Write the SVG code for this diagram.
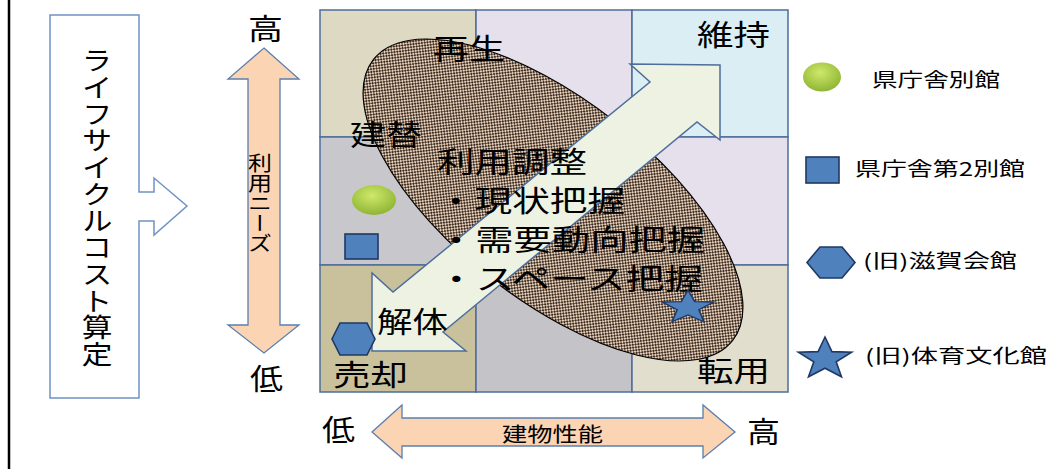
<svg xmlns="http://www.w3.org/2000/svg" width="1048" height="469" viewBox="0 0 1048 469">
<style>
.cell{stroke:#4d6d9b;stroke-width:1.5}
.lbl{font-family:"Noto Sans CJK JP","Noto Sans CJK SC",sans-serif;font-size:29px;fill:#000}
.sm{font-family:"Noto Sans CJK JP","Noto Sans CJK SC",sans-serif;font-size:19px;fill:#000}
.peach{fill:#fbd4b4;stroke:#5a7fae;stroke-width:1.3}
.mk{fill:#4f81bd;stroke:#1f3864;stroke-width:1.6}
</style>
<defs>
<pattern id="dots" width="4" height="4" patternUnits="userSpaceOnUse">
<rect width="4" height="4" fill="#e8ceb6"/>
<rect x="0" y="0" width="2" height="2" fill="#3d3027"/>
<rect x="2" y="2" width="2" height="2" fill="#3d3027"/>
</pattern>
<radialGradient id="grn" cx="0.45" cy="0.35" r="0.65">
<stop offset="0" stop-color="#cfe86a"/>
<stop offset="1" stop-color="#8fb534"/>
</radialGradient>
<path id="star" d="M0,-22 L6.9,-7.4 L26.6,-6.8 L11.2,2.8 L16.5,17.8 L0,9.2 L-16.5,17.8 L-11.2,2.8 L-26.6,-6.8 L-6.9,-7.4 Z"/>
</defs>
<rect width="1048" height="469" fill="#fff"/>
<line x1="9" y1="0" x2="9" y2="469" stroke="#000" stroke-width="2.5"/>

<g id="lifecycle">
<path d="M50,15 H139 V192 H154 V178 L187,206 L154,235 V221 H139 V398 H50 Z" fill="#fff" stroke="#6f93c4" stroke-width="1.5"/>
<text class="lbl" transform="translate(97,207) scale(1.15,1)" x="0" y="0" text-anchor="middle" style="writing-mode:vertical-rl;font-size:26.7px">ライフサイクルコスト算定</text>
</g>

<g id="needs-axis">
<polygon class="peach" points="264,48 299,79 280,79 280,325 299,325 264,353 228,325 248,325 248,79 228,79"/>
<text class="sm" transform="translate(260,203) scale(1.2,1)" x="0" y="0" text-anchor="middle" style="writing-mode:vertical-rl;font-size:20px">利用ニーズ</text>
<text class="lbl" x="248" y="40" textLength="35" lengthAdjust="spacingAndGlyphs">高</text>
<text class="lbl" x="250" y="390" textLength="33" lengthAdjust="spacingAndGlyphs">低</text>
</g>

<g id="perf-axis">
<polygon class="peach" points="372,432 402,405 402,418 703,418 703,405 735,432 703,458 703,446 402,446 402,458"/>
<text class="sm" x="502" y="442" style="font-size:20px" textLength="101" lengthAdjust="spacingAndGlyphs">建物性能</text>
<text class="lbl" x="322" y="441" textLength="33" lengthAdjust="spacingAndGlyphs">低</text>
<text class="lbl" x="747" y="443" textLength="33" lengthAdjust="spacingAndGlyphs">高</text>
</g>

<g id="grid">
<rect class="cell" x="320" y="10" width="156" height="127" fill="#ddd9c3"/>
<rect class="cell" x="476" y="10" width="156" height="127" fill="#e6e0ec"/>
<rect class="cell" x="632" y="10" width="156" height="127" fill="#dbeef4"/>
<rect class="cell" x="320" y="137" width="156" height="128" fill="#c8c8cc"/>
<rect class="cell" x="476" y="137" width="156" height="128" fill="#e6e0ec"/>
<rect class="cell" x="632" y="137" width="156" height="128" fill="#e6e0ec"/>
<rect class="cell" x="320" y="265" width="156" height="127" fill="#c9c19b"/>
<rect class="cell" x="476" y="265" width="156" height="127" fill="#c4c4c8"/>
<rect class="cell" x="632" y="265" width="156" height="127" fill="#e2dece"/>
</g>

<g id="zone">
<ellipse cx="553" cy="200" rx="228" ry="100" transform="rotate(38 553 200)" fill="url(#dots)" stroke="#000" stroke-width="1.2"/>
</g>

<g id="connectors">
<polygon points="372,351 372,273 393,292 650,82 630,64 720,65 720,140 697,122 443,332 466,351" fill="#eef2e2" stroke="#4d6d9b" stroke-width="1.5"/>
</g>

<g id="labels">
<text class="lbl" x="433" y="60" textLength="72" lengthAdjust="spacingAndGlyphs">再生</text>
<text class="lbl" x="697" y="46" textLength="73" lengthAdjust="spacingAndGlyphs">維持</text>
<text class="lbl" x="350" y="146" textLength="72" lengthAdjust="spacingAndGlyphs">建替</text>
<text class="lbl" x="437" y="173" textLength="150" lengthAdjust="spacingAndGlyphs">利用調整</text>
<text class="lbl" x="437" y="212" textLength="188" lengthAdjust="spacingAndGlyphs">・現状把握</text>
<text class="lbl" x="437" y="251" textLength="268" lengthAdjust="spacingAndGlyphs">・需要動向把握</text>
<text class="lbl" x="437" y="290" textLength="266" lengthAdjust="spacingAndGlyphs">・スペース把握</text>
<text class="lbl" x="377" y="333" textLength="71" lengthAdjust="spacingAndGlyphs">解体</text>
<text class="lbl" x="333" y="386" textLength="75" lengthAdjust="spacingAndGlyphs">売却</text>
<text class="lbl" x="697" y="382" textLength="73" lengthAdjust="spacingAndGlyphs">転用</text>
</g>

<g id="markers">
<ellipse cx="374" cy="200" rx="22" ry="15" fill="url(#grn)"/>
<rect class="mk" x="345" y="234" width="33" height="25"/>
<polygon class="mk" points="340,323 367,323 375,339 367,355 340,355 332,339"/>
<use href="#star" class="mk" transform="translate(688,307.5) scale(0.97,0.8)"/>
</g>

<g id="legend">
<ellipse cx="822" cy="77" rx="19" ry="14.5" fill="url(#grn)"/>
<text class="sm" x="872" y="87" textLength="128" lengthAdjust="spacingAndGlyphs">県庁舎別館</text>
<rect class="mk" x="806" y="157" width="33" height="26"/>
<text class="sm" x="855" y="176" textLength="170" lengthAdjust="spacingAndGlyphs">県庁舎第2別館</text>
<polygon class="mk" points="820,247 842,247 855,262.5 842,278 820,278 807,262.5"/>
<text class="sm" x="863" y="268" textLength="154" lengthAdjust="spacingAndGlyphs">(旧)滋賀会館</text>
<use href="#star" class="mk" transform="translate(825,359)"/>
<text class="sm" x="865" y="363" textLength="182" lengthAdjust="spacingAndGlyphs">(旧)体育文化館</text>
</g>
</svg>
